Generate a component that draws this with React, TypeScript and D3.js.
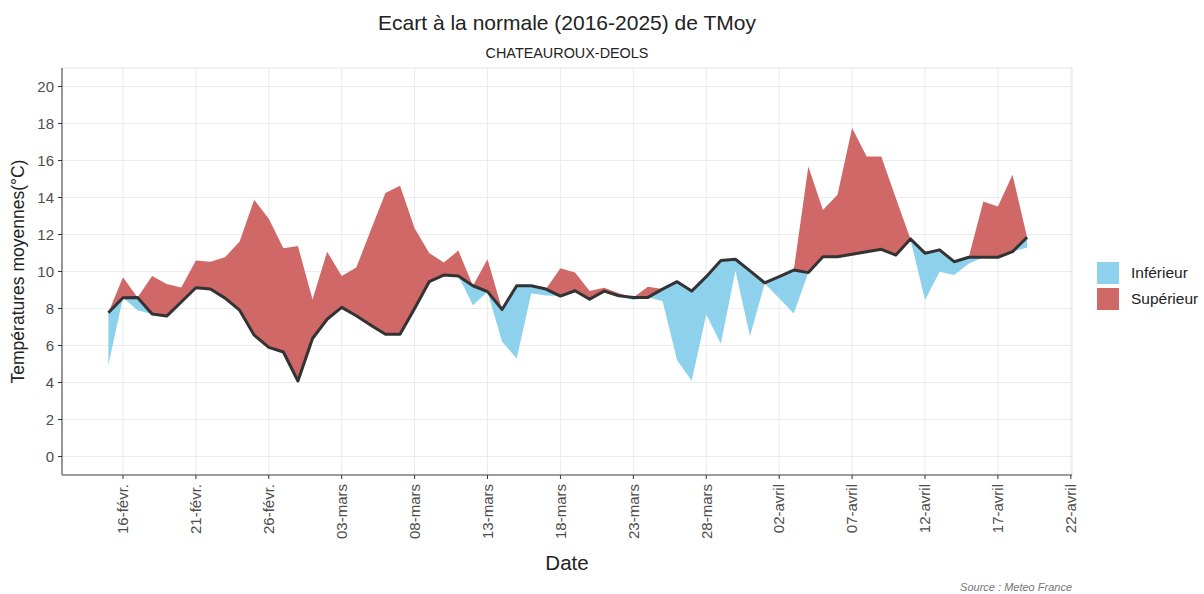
import React, { useEffect, useRef } from 'react'
import * as d3 from 'd3'

// 15 févr. -> 19 avril 2025, one value per day
const normale = [
  7.77, 8.58, 8.6, 7.7, 7.59, 8.35, 9.12, 9.05, 8.56, 7.91,
  6.56, 5.9, 5.65, 4.08, 6.38, 7.42, 8.06, 7.61, 7.1, 6.61,
  6.61, 8.0, 9.45, 9.81, 9.76, 9.23, 8.91, 7.95, 9.23, 9.23,
  9.05, 8.67, 8.96, 8.5, 8.94, 8.69, 8.6, 8.6, 9.05, 9.45,
  8.94, 9.72, 10.59, 10.66, 10.03, 9.39, 9.72, 10.08, 9.94, 10.8,
  10.8, 10.93, 11.07, 11.2, 10.89, 11.76, 10.99, 11.17, 10.53, 10.77,
  10.77, 10.77, 11.07, 11.85,
]
const observee = [
  4.93, 9.69, 7.9, 9.76, 9.32, 9.14, 10.59, 10.53, 10.77, 11.62,
  13.88, 12.85, 11.26, 11.38, 8.49, 11.07, 9.76, 10.21, 12.25, 14.24,
  14.63, 12.34, 11.0, 10.48, 11.13, 8.18, 10.66, 6.2, 5.3, 8.82,
  8.7, 10.17, 9.94, 8.95, 9.12, 8.82, 8.46, 9.18, 8.4, 5.2,
  4.1, 7.68, 6.1, 10.05, 6.5, 9.35, 8.55, 7.73, 15.68, 13.33,
  14.15, 17.76, 16.22, 16.22, 13.97, 11.74, 8.46, 9.99, 9.81, 10.42,
  13.78, 13.51, 15.23, 11.3,
]
const tickDays = [16, 21, 26, 31, 36, 41, 46, 51, 56, 61, 66, 71, 76, 81] // days after 31 janv.
const tickLabels = [
  '16-févr.', '21-févr.', '26-févr.', '03-mars', '08-mars', '13-mars', '18-mars',
  '23-mars', '28-mars', '02-avril', '07-avril', '12-avril', '17-avril', '22-avril',
]
const yTicks = [0, 2, 4, 6, 8, 10, 12, 14, 16, 18, 20]
const legendLabels = ['Inférieur', 'Supérieur']

const BLUE = '#8dd1ed'
const RED = '#d06868'
const FONT = 'Liberation Sans, Arial, sans-serif'

const day = (n: number) => new Date(Date.UTC(2025, 0, 31 + n))

export default function App() {
  const ref = useRef<SVGSVGElement>(null)

  useEffect(() => {
    const width = 1204
    const height = 594
    const left = 62, right = 1072, top = 68, bottom = 475

    const svg = d3.select(ref.current)
    svg.selectAll('*').remove()

    const rows = normale.map((n, i) => ({ date: day(15 + i), n, o: observee[i] }))

    const x = d3.scaleUtc()
      .domain([new Date(day(16).getTime() - 4.18 * 864e5), new Date(day(81).getTime() + 0.08 * 864e5)])
      .range([left, right])
    const y = d3.scaleLinear().domain([-1, 21]).range([bottom, top])

    svg.append('rect').attr('width', width).attr('height', height).attr('fill', '#fff')

    // grid
    const g = svg.append('g')
    g.selectAll('.hg').data(yTicks).enter().append('line')
      .attr('x1', left).attr('x2', right)
      .attr('y1', d => y(d)).attr('y2', d => y(d))
      .attr('stroke', '#ebebeb').attr('stroke-width', 1)
    g.selectAll('.vg').data(tickDays).enter().append('line')
      .attr('x1', d => x(day(d))).attr('x2', d => x(day(d)))
      .attr('y1', top).attr('y2', bottom)
      .attr('stroke', '#ebebeb').attr('stroke-width', 1)
    g.append('rect').attr('x', left).attr('y', top).attr('width', right - left).attr('height', bottom - top)
      .attr('fill', 'none').attr('stroke', '#e6e6e6').attr('stroke-width', 1)

    // ribbons
    const redArea = d3.area<any>()
      .x(d => x(d.date)).y0(d => y(d.n)).y1(d => y(Math.max(d.o, d.n)))
    const blueArea = d3.area<any>()
      .x(d => x(d.date)).y0(d => y(Math.min(d.o, d.n))).y1(d => y(d.n))
    svg.append('path').datum(rows).attr('d', blueArea).attr('fill', BLUE)
    svg.append('path').datum(rows).attr('d', redArea).attr('fill', RED)

    const line = d3.line<any>().x(d => x(d.date)).y(d => y(d.n))
    svg.append('path').datum(rows).attr('d', line)
      .attr('fill', 'none').attr('stroke', '#333333').attr('stroke-width', 3)
      .attr('stroke-linejoin', 'round')

    // axes
    svg.append('line').attr('x1', left).attr('x2', left).attr('y1', top).attr('y2', bottom)
      .attr('stroke', '#808080').attr('stroke-width', 1.6)
    svg.append('line').attr('x1', left).attr('x2', right).attr('y1', bottom).attr('y2', bottom)
      .attr('stroke', '#808080').attr('stroke-width', 1.6)

    svg.selectAll('.yt').data(yTicks).enter().append('line')
      .attr('x1', left - 4).attr('x2', left).attr('y1', d => y(d)).attr('y2', d => y(d))
      .attr('stroke', '#333').attr('stroke-width', 1)
    svg.selectAll('.yl').data(yTicks).enter().append('text')
      .attr('x', left - 8).attr('y', d => y(d)).attr('dy', '0.35em')
      .attr('text-anchor', 'end').attr('font-family', FONT).attr('font-size', 15)
      .attr('fill', '#4d4d4d').text(d => d)

    svg.selectAll('.xt').data(tickDays).enter().append('line')
      .attr('x1', d => x(day(d))).attr('x2', d => x(day(d)))
      .attr('y1', bottom).attr('y2', bottom + 4)
      .attr('stroke', '#333').attr('stroke-width', 1)
    svg.selectAll('.xl').data(tickDays).enter().append('text')
      .attr('transform', d => `translate(${x(day(d))},${bottom + 9}) rotate(-90)`)
      .attr('dy', '0.35em').attr('text-anchor', 'end')
      .attr('font-family', FONT).attr('font-size', 15).attr('fill', '#4d4d4d')
      .text((d, i) => tickLabels[i])

    // titles
    svg.append('text').attr('x', (left + right) / 2).attr('y', 30).attr('text-anchor', 'middle')
      .attr('font-family', FONT).attr('font-size', 21).attr('fill', '#222')
      .text('Ecart à la normale (2016-2025) de TMoy')
    svg.append('text').attr('x', (left + right) / 2).attr('y', 58).attr('text-anchor', 'middle')
      .attr('font-family', FONT).attr('font-size', 14.4).attr('fill', '#222')
      .text('CHATEAUROUX-DEOLS')
    svg.append('text').attr('x', (left + right) / 2).attr('y', 570).attr('text-anchor', 'middle')
      .attr('font-family', FONT).attr('font-size', 20.5).attr('fill', '#222').text('Date')
    svg.append('text').attr('transform', `translate(24,${(top + bottom) / 2}) rotate(-90)`)
      .attr('text-anchor', 'middle').attr('font-family', FONT).attr('font-size', 17.5)
      .attr('fill', '#222').text('Températures moyennes(°C)')
    svg.append('text').attr('x', right).attr('y', 591).attr('text-anchor', 'end')
      .attr('font-family', FONT).attr('font-size', 11).attr('font-style', 'italic')
      .attr('fill', '#777').text('Source : Meteo France')

    // legend
    const lg = svg.append('g').attr('transform', 'translate(1097,262)')
    lg.selectAll('rect').data(legendLabels).enter().append('rect')
      .attr('x', 0).attr('y', (d, i) => i * 26).attr('width', 22).attr('height', 22)
      .attr('fill', (d, i) => (i === 0 ? BLUE : RED))
    lg.selectAll('text').data(legendLabels).enter().append('text')
      .attr('x', 34).attr('y', (d, i) => i * 26 + 11).attr('dy', '0.35em')
      .attr('font-family', FONT).attr('font-size', 15.5).attr('fill', '#222').text(d => d)
  }, [])

  return (
    <div style={{ position: 'absolute', left: 0, top: 0 }}>
      <svg ref={ref} width={1204} height={594} />
    </div>
  )
}
